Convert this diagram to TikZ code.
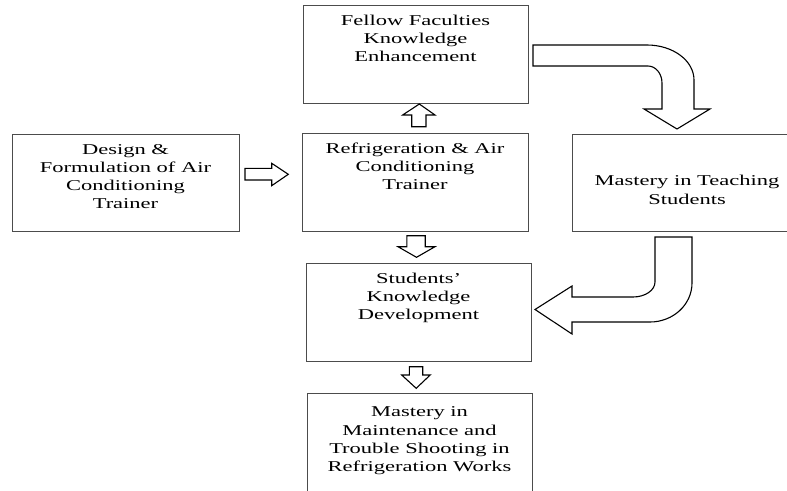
\documentclass[tikz,border=0pt]{standalone}
\usepackage{fontspec}
\setmainfont[FakeStretch=1.5]{Liberation Serif}
\begin{document}
\begin{tikzpicture}[x=1pt,y=-1pt,
  box/.style={draw=black!70, line width=0.8pt, inner sep=0pt},
  lbl/.style={anchor=base, align=center, inner sep=0pt, text=black,
    font=\fontsize{15}{18.3}\selectfont},
  barrow/.style={draw=black, line width=1.1pt, fill=white, line join=miter}]
\useasboundingbox (0,0) rectangle (787,490);
\clip (0,0) rectangle (787,490);
% boxes
\node[box, minimum width=225pt, minimum height=98pt] (fellow) at (415.5,54) {};
\node[box, minimum width=227pt, minimum height=97pt] (design) at (125.5,182.5) {};
\node[box, minimum width=226pt, minimum height=98pt] (refrig) at (415,182) {};
\node[box, minimum width=230pt, minimum height=97pt] (mastery) at (687,182.5) {};
\node[box, minimum width=225pt, minimum height=98pt] (students) at (418.5,312) {};
\node[box, minimum width=225pt, minimum height=104pt] (final) at (419.5,445) {};
% texts (anchor base = baseline of the last line)
\node[lbl] (fellowtxt) at (415.5,61.6) {Fellow Faculties\\Knowledge\\Enhancement};
\node[lbl] (designtxt) at (125.5,208.9) {Design \&\\Formulation of Air\\Conditioning\\Trainer};
\node[lbl] (refrigtxt) at (415,189.9) {Refrigeration \& Air\\Conditioning\\Trainer};
\node[lbl] (masterytxt) at (687,204) {Mastery in Teaching\\Students};
\node[lbl] (studentstxt) at (418.5,319.9) {Students’\\Knowledge\\Development};
\node[lbl] (finaltxt) at (419.5,471.6) {Mastery in\\Maintenance and\\Trouble Shooting in\\Refrigeration Works};
% straight block arrows
\draw[barrow] (245,168.3) -- (271.7,168.3) -- (271.7,163.3) -- (288.3,174.3) -- (271.7,185.7) -- (271.7,180) -- (245,180) -- cycle;
\draw[barrow] (411.7,126.7) -- (411.7,115) -- (402.7,115) -- (419.3,104) -- (435,115) -- (426,115) -- (426,126.7) -- cycle;
\draw[barrow] (406.8,235.7) -- (425.2,235.7) -- (425.2,246.7) -- (435,246.7) -- (416.5,257.3) -- (398,246.7) -- (406.8,246.7) -- cycle;
\draw[barrow] (409.3,366.7) -- (422.7,366.7) -- (422.7,375) -- (430.2,375) -- (416.2,388.3) -- (401.7,375) -- (409.3,375) -- cycle;
% curved block arrows
\draw[barrow] (533,45) -- (647,45) .. controls (673,45) and (694,60.7) .. (694,80)
  -- (694,109) -- (710,109) -- (677,129) -- (644,109) -- (662,109) -- (662,83)
  .. controls (662,73.6) and (655.7,66) .. (648,66) -- (533,66) -- cycle;
\draw[barrow] (655,237) -- (692,237) -- (692,283) .. controls (692,304.5) and (673.2,322) .. (650,322)
  -- (572,322) -- (572,334) -- (535,309.5) -- (572,286) -- (572,297) -- (633,297)
  .. controls (645.1,297) and (655,290.3) .. (655,282) -- cycle;
\end{tikzpicture}
\end{document}
